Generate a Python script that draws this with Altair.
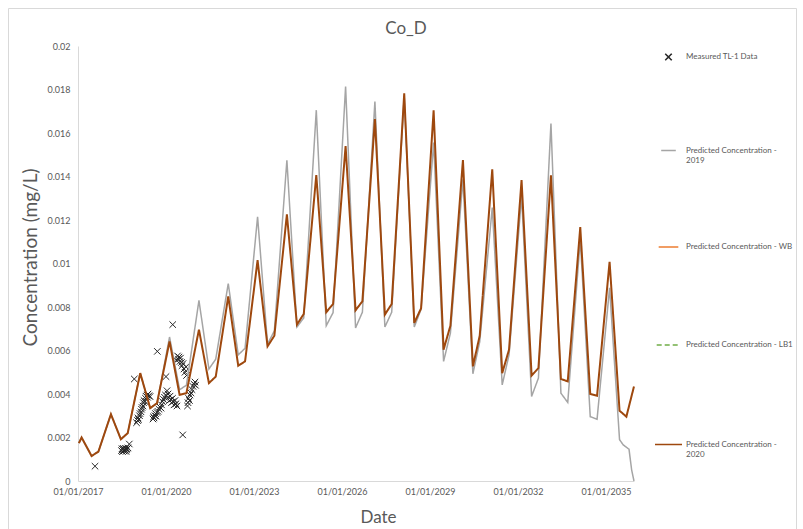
import altair as alt
import pandas as pd

# ---------------- data ----------------
SERIES = [
    "Measured TL-1 Data",
    "Predicted Concentration - 2019",
    "Predicted Concentration - WB",
    "Predicted Concentration - LB1",
    "Predicted Concentration - 2020",
]
COLORS = ["#262626", "#A5A5A5", "#ED7D31", "#70AD47", "#9E480E"]

DATES_2020 = [
    "2017-01-12",
    "2017-02-15", "2017-06-19", "2017-09-12",
    "2018-02-15", "2018-06-19", "2018-09-12",
    "2019-02-15", "2019-06-19", "2019-09-12",
    "2020-02-15", "2020-06-19", "2020-09-12",
    "2021-02-15", "2021-06-19", "2021-09-12",
    "2022-02-15", "2022-06-19", "2022-09-12",
    "2023-02-15", "2023-06-19", "2023-09-12",
    "2024-02-15", "2024-06-19", "2024-09-12",
    "2025-02-15", "2025-06-19", "2025-09-12",
    "2026-02-15", "2026-06-19", "2026-09-12",
    "2027-02-15", "2027-06-19", "2027-09-12",
    "2028-02-15", "2028-06-19", "2028-09-12",
    "2029-02-15", "2029-06-19", "2029-09-12",
    "2030-02-15", "2030-06-19", "2030-09-12",
    "2031-02-15", "2031-06-19", "2031-09-12",
    "2032-02-15", "2032-06-19", "2032-09-12",
    "2033-02-15", "2033-06-19", "2033-09-12",
    "2034-02-15", "2034-06-19", "2034-09-12",
    "2035-02-15", "2035-06-19", "2035-09-12",
    "2035-12-16",
]
CONC_2020 = [
    0.00174,
    0.00200, 0.00115, 0.00135,
    0.00307, 0.00192, 0.00220,
    0.00496, 0.00335, 0.00358,
    0.00642, 0.00396, 0.00404,
    0.00696, 0.00450, 0.00480,
    0.00849, 0.00530, 0.00550,
    0.01015, 0.00619, 0.00668,
    0.01226, 0.00719, 0.00768,
    0.01407, 0.00776, 0.00814,
    0.01540, 0.00785, 0.00826,
    0.01664, 0.00765, 0.00814,
    0.01782, 0.00727, 0.00794,
    0.01704, 0.00604, 0.00714,
    0.01476, 0.00527, 0.00668,
    0.01433, 0.00496, 0.00604,
    0.01384, 0.00485, 0.00519,
    0.01406, 0.00469, 0.00458,
    0.01167, 0.00400, 0.00392,
    0.01008, 0.00323, 0.00296,
    0.00435,
]

DATES_2019 = [
    "2017-01-12",
    "2017-02-15", "2017-06-19", "2017-09-12",
    "2018-02-15", "2018-06-19", "2018-09-12",
    "2019-02-15", "2019-06-19", "2019-09-12",
    "2020-02-15", "2020-06-19", "2020-09-12",
    "2021-02-15", "2021-06-19", "2021-09-12",
    "2022-02-15", "2022-06-19", "2022-09-12",
    "2023-02-15", "2023-06-19", "2023-09-12",
    "2024-02-15", "2024-06-19", "2024-09-12",
    "2025-02-15", "2025-06-19", "2025-09-12",
    "2026-02-15", "2026-06-19", "2026-09-12",
    "2027-02-15", "2027-06-19", "2027-09-12",
    "2028-02-15", "2028-06-19", "2028-09-12",
    "2029-02-15", "2029-06-19", "2029-09-12",
    "2030-02-15", "2030-06-19", "2030-09-12",
    "2031-02-15", "2031-06-19", "2031-09-12",
    "2032-02-15", "2032-06-19", "2032-09-12",
    "2033-02-15", "2033-06-19", "2033-09-12",
    "2034-02-15", "2034-06-19", "2034-09-12",
    "2035-02-15", "2035-06-19", "2035-08-04",
    "2035-10-15", "2035-11-17", "2035-12-16",
]
CONC_2019 = [
    0.00174,
    0.00200, 0.00115, 0.00135,
    0.00307, 0.00192, 0.00220,
    0.00496, 0.00335, 0.00358,
    0.00662, 0.00420, 0.00440,
    0.00830, 0.00515, 0.00560,
    0.00908, 0.00580, 0.00610,
    0.01215, 0.00630, 0.00690,
    0.01475, 0.00708, 0.00750,
    0.01705, 0.00714, 0.00774,
    0.01814, 0.00704, 0.00776,
    0.01745, 0.00708, 0.00776,
    0.01770, 0.00708, 0.00790,
    0.01556, 0.00550, 0.00680,
    0.01387, 0.00493, 0.00640,
    0.01257, 0.00442, 0.00580,
    0.01310, 0.00389, 0.00473,
    0.01644, 0.00404, 0.00361,
    0.01110, 0.00296, 0.00284,
    0.00888, 0.00190, 0.00166,
    0.00146, 0.00050, 0.00000,
]

# measured TL-1 data: decimal year and concentration
MEAS_YEAR = [
    2017.580,
    2018.483, 2018.500, 2018.517, 2018.534, 2018.551, 2018.568, 2018.585,
    2018.602, 2018.620, 2018.637, 2018.654, 2018.671, 2018.705, 2018.749,
    2018.919,
    2018.995, 2019.029, 2019.046, 2019.063, 2019.097, 2019.114, 2019.148,
    2019.165, 2019.182, 2019.216, 2019.233, 2019.250, 2019.284, 2019.301,
    2019.318, 2019.353, 2019.370, 2019.387, 2019.421, 2019.455,
    2019.704,
    2019.557, 2019.574, 2019.591, 2019.625, 2019.642, 2019.659, 2019.693,
    2019.728, 2019.762, 2019.796, 2019.830, 2019.847, 2019.881, 2019.915,
    2019.949, 2019.983,
    2020.000,
    2020.034, 2020.068, 2020.086, 2020.120, 2020.137, 2020.171, 2020.188,
    2020.222, 2020.239, 2020.273, 2020.307, 2020.341, 2020.375,
    2020.229,
    2020.358, 2020.392, 2020.426, 2020.443, 2020.477, 2020.494, 2020.528,
    2020.546, 2020.580, 2020.614, 2020.648, 2020.682, 2020.699,
    2020.570,
    2020.733, 2020.750, 2020.767, 2020.801, 2020.818, 2020.852, 2020.887,
    2020.921, 2020.955, 2020.989, 2021.006,
]
MEAS_CONC = [
    0.00068,
    0.00140, 0.00148, 0.00135, 0.00145, 0.00150, 0.00138, 0.00146,
    0.00142, 0.00150, 0.00136, 0.00144, 0.00148, 0.00152, 0.00170,
    0.00469,
    0.00268, 0.00278, 0.00290, 0.00282, 0.00300, 0.00310, 0.00318,
    0.00330, 0.00338, 0.00345, 0.00360, 0.00370, 0.00365, 0.00380,
    0.00390, 0.00395, 0.00385, 0.00400, 0.00392, 0.00388,
    0.00596,
    0.00285, 0.00295, 0.00290, 0.00300, 0.00310, 0.00298, 0.00315,
    0.00320, 0.00330, 0.00340, 0.00335, 0.00350, 0.00365, 0.00375,
    0.00385, 0.00395,
    0.00480,
    0.00415, 0.00400, 0.00385, 0.00370, 0.00390, 0.00375, 0.00360,
    0.00380, 0.00365, 0.00350, 0.00370, 0.00355, 0.00345,
    0.00719,
    0.00555, 0.00575, 0.00560, 0.00570, 0.00550, 0.00565, 0.00545,
    0.00530, 0.00540, 0.00515, 0.00500, 0.00525, 0.00485,
    0.00212,
    0.00345, 0.00360, 0.00380, 0.00370, 0.00395, 0.00405, 0.00420,
    0.00435, 0.00445, 0.00455, 0.00440,
]

Y_TICKS = [0, 0.002, 0.004, 0.006, 0.008, 0.01, 0.012, 0.014, 0.016, 0.018, 0.02]
X_TICK_YEARS = [2017, 2020, 2023, 2026, 2029, 2032, 2035]


def year_to_iso(y):
    ts = pd.Timestamp("2017-01-01") + pd.to_timedelta((y - 2017) * 365.25, unit="D")
    return ts.strftime("%Y-%m-%dT%H:%M:%SZ")


df_2019 = pd.DataFrame({"date": DATES_2019, "conc": CONC_2019, "series": SERIES[1]})
df_2020 = pd.DataFrame({"date": DATES_2020, "conc": CONC_2020, "series": SERIES[4]})
df_meas = pd.DataFrame({"date": [year_to_iso(y) for y in MEAS_YEAR], "conc": MEAS_CONC,
                        "series": SERIES[0]})

FONT = "Lato"
TXT = "#595959"
AXC = "#D9D9D9"

label_expr = (
    "datum.label == 'Predicted Concentration - 2019' ? ['Predicted Concentration -', '2019'] : "
    "datum.label == 'Predicted Concentration - 2020' ? ['Predicted Concentration -', '2020'] : "
    "[datum.label, '']"
)


def leg():
    return alt.Legend(title=None, labelExpr=label_expr)


x_enc = alt.X(
    "date:T",
    scale=alt.Scale(
        type="utc",
        nice=False,
        domain=[alt.DateTime(year=2017, month=1, date=1, utc=True),
                alt.DateTime(year=2035, month=12, date=16, utc=True)],
    ),
    axis=alt.Axis(
        values=[alt.DateTime(year=y, month=1, date=1, utc=True) for y in X_TICK_YEARS],
        labelExpr="utcFormat(datum.value, '%d/%m/%Y')",
        title="Date",
        titleX=300, titleY=36, titleBaseline="middle", titleAlign="center",
        titleFontSize=17, titleFont=FONT, titleFontWeight="normal", titleColor=TXT,
        labelFont=FONT, labelFontSize=9, labelColor=TXT, labelPadding=6,
        labelFlush=False, ticks=False, grid=False, domainColor=AXC, labelOverlap=False,
    ),
)
y_enc = alt.Y(
    "conc:Q",
    scale=alt.Scale(domain=[0, 0.02], nice=False),
    axis=alt.Axis(
        values=Y_TICKS, format="~g",
        title="Concentration (mg/L)",
        titleX=-48, titleY=211, titleBaseline="middle", titleAlign="center", titleAngle=-90,
        titleFontSize=19, titleFont=FONT, titleFontWeight="normal", titleColor=TXT,
        labelFont=FONT, labelFontSize=9, labelColor=TXT, labelPadding=8,
        labelFlush=False, ticks=False, grid=False, domainColor=AXC,
    ),
)
color_enc = alt.Color("series:N", scale=alt.Scale(domain=SERIES, range=COLORS), legend=leg())
dash_enc = alt.StrokeDash(
    "series:N",
    scale=alt.Scale(domain=SERIES, range=[[1, 0], [1, 0], [1, 0], [5, 3], [1, 0]]),
    legend=leg(),
)
shape_enc = alt.Shape(
    "series:N",
    scale=alt.Scale(domain=SERIES,
                    range=["M-1,-1L1,1M-1,1L1,-1", "stroke", "stroke", "stroke", "stroke"]),
    legend=leg(),
)
size_enc = alt.Size(
    "series:N",
    scale=alt.Scale(domain=SERIES, range=[42, 729, 729, 729, 729]),
    legend=leg(),
)

frame = alt.Chart(pd.DataFrame({"k": [0]})).mark_rect(
    fillOpacity=0, stroke=AXC, strokeWidth=1
).encode(
    x=alt.value(-69.5), x2=alt.value(718.5), y=alt.value(-37.5), y2=alt.value(500)
)

points = alt.Chart(df_meas).mark_point(filled=False, strokeWidth=1, opacity=1).encode(
    x=x_enc, y=y_enc, color=color_enc, shape=shape_enc, size=size_enc
)

line_2019 = alt.Chart(df_2019).mark_line(strokeWidth=1.5, opacity=1).encode(
    x=x_enc, y=y_enc, color=color_enc, strokeDash=dash_enc
)
line_2020 = alt.Chart(df_2020).mark_line(strokeWidth=2, opacity=1).encode(
    x=x_enc, y=y_enc, color=color_enc, strokeDash=dash_enc
)

chart = alt.layer(frame, points, line_2019, line_2020).properties(
    width=556,
    height=435,
    padding={"left": 78, "top": 46, "right": 169, "bottom": 48},
    autosize=alt.AutoSizeParams(type="none"),
    title=alt.TitleParams(
        "Co_D", font=FONT, fontSize=17, fontWeight="normal", color=TXT,
        anchor="middle", frame="group", dx=50, dy=34, offset=4,
    ),
).configure_view(
    strokeWidth=0
).configure_legend(
    orient="none", legendX=576, legendY=7, padding=0,
    labelFont=FONT, labelFontSize=8, labelColor=TXT, labelOffset=3, labelLimit=300,
    symbolStrokeWidth=1.5, rowPadding=71, labelBaseline="middle",
)

chart.save("out.html", embed_options={"renderer": "svg", "actions": False})
